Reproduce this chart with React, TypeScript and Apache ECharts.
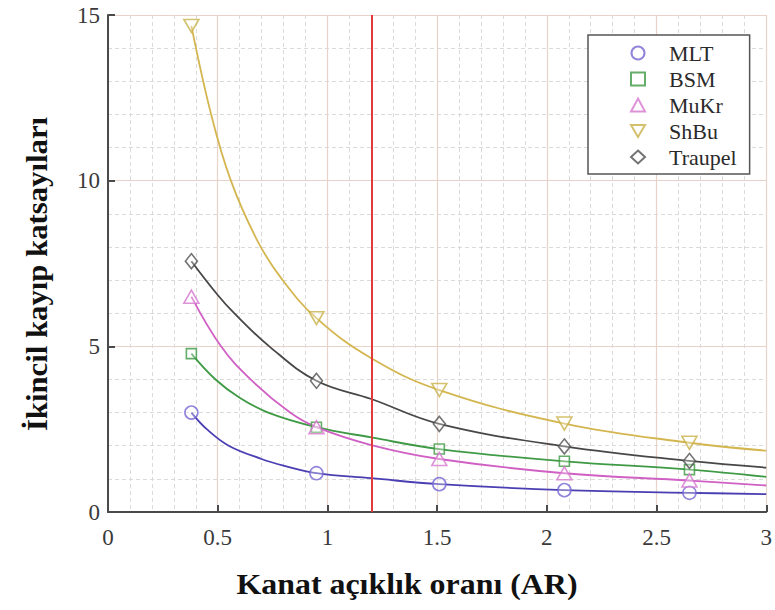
import React, { useEffect, useRef } from "react";
import * as echarts from "echarts";

// Marker positions (AR values) and marker values
const markerX = [0.38, 0.95, 1.51, 2.08, 2.65];
const mltMarkers = [3.0, 1.17, 0.84, 0.66, 0.58];
const bsmMarkers = [4.78, 2.56, 1.9, 1.53, 1.28];
const mukrMarkers = [6.5, 2.56, 1.6, 1.17, 0.95];
const shbuMarkers = [14.67, 5.85, 3.68, 2.67, 2.09];
const traupelMarkers = [7.57, 3.96, 2.66, 1.98, 1.54];

// Fitted curves as [AR, value]
const mltCurve = [[0.38, 3.0], [0.45, 2.5], [0.55, 2.0], [0.7, 1.6], [0.8, 1.4], [0.95, 1.17], [1.2, 1.02], [1.51, 0.84], [2.08, 0.66], [2.65, 0.58], [3.0, 0.54]];
const bsmCurve = [[0.38, 4.78], [0.49, 4.0], [0.6, 3.45], [0.73, 3.0], [0.95, 2.56], [1.2, 2.25], [1.51, 1.9], [2.08, 1.53], [2.65, 1.28], [3.0, 1.06]];
const mukrCurve = [[0.38, 6.5], [0.515, 5.0], [0.65, 4.0], [0.83, 3.0], [0.95, 2.56], [1.2, 2.02], [1.51, 1.6], [2.08, 1.17], [2.65, 0.95], [3.0, 0.8]];
const shbuCurve = [[0.38, 14.67], [0.47, 12.0], [0.56, 10.0], [0.68, 8.2], [0.79, 7.05], [0.95, 5.85], [1.2, 4.64], [1.51, 3.68], [2.08, 2.67], [2.65, 2.09], [3.0, 1.85]];
const traupelCurve = [[0.38, 7.57], [0.5, 6.55], [0.575, 6.0], [0.735, 5.0], [0.95, 3.96], [1.2, 3.41], [1.51, 2.66], [2.08, 1.98], [2.65, 1.54], [3.0, 1.34]];

const redLineX = 1.2;
const seriesNames = ["MLT", "BSM", "MuKr", "ShBu", "Traupel"];
const xAxisTitle = "Kanat açıklık oranı (AR)";
const yAxisTitle = "İkincil kayıp katsayıları";

const SERIF = "Liberation Serif";

export default function App() {
  const ref = useRef<HTMLDivElement>(null);
  useEffect(() => {
    if (!ref.current) return;
    const chart = echarts.init(ref.current, undefined, { renderer: "svg" });

    const defs = [
      { name: seriesNames[0], curve: mltCurve, marks: mltMarkers, line: "#4a3fb2", mark: "#7467d2", symbol: "circle", size: 13 },
      { name: seriesNames[1], curve: bsmCurve, marks: bsmMarkers, line: "#3f9a45", mark: "#3f9a45", symbol: "rect", size: 10 },
      { name: seriesNames[2], curve: mukrCurve, marks: mukrMarkers, line: "#d060c4", mark: "#d678cf", symbol: "triangle", size: [15, 13] },
      { name: seriesNames[3], curve: shbuCurve, marks: shbuMarkers, line: "#d4b650", mark: "#c9b24a", symbol: "path://M0,0L10,0L5,8.5Z", size: [15, 13] },
      { name: seriesNames[4], curve: traupelCurve, marks: traupelMarkers, line: "#474747", mark: "#505050", symbol: "diamond", size: [12, 15] },
    ];

    const series: any[] = [];
    defs.forEach((d, i) => {
      const s: any = {
        name: d.name + " curve",
        type: "line",
        data: d.curve,
        smooth: 0.4,
        showSymbol: false,
        symbol: "none",
        lineStyle: { color: d.line, width: 1.8 },
        z: 3,
      };
      if (i === 0) {
        s.markLine = {
          silent: true,
          symbol: ["none", "none"],
          label: { show: false },
          lineStyle: { color: "#e23a3a", width: 2, type: "solid" },
          data: [{ xAxis: redLineX }],
        };
      }
      series.push(s);
    });
    defs.forEach((d) => {
      series.push({
        name: d.name,
        type: "scatter",
        data: markerX.map((x, k) => [x, d.marks[k]]),
        symbol: d.symbol,
        symbolSize: d.size,
        itemStyle: { color: "rgba(255,255,255,0.4)", borderColor: d.mark, borderWidth: 1.6 },
        z: 5,
      });
    });

    const axisLine = { show: true, onZero: false, lineStyle: { color: "#4a4a4a", width: 2 } };
    const axisTick = { show: true, inside: true, length: 7, lineStyle: { color: "#4a4a4a", width: 2 } };
    const splitLine = { show: true, lineStyle: { color: "#e8d3ca", width: 1.2 } };
    const minorSplitLine = { show: true, lineStyle: { color: "#dadada", width: 1, type: [4, 3] } };

    chart.setOption({
      animation: false,
      backgroundColor: "#ffffff",
      textStyle: { fontFamily: SERIF },
      grid: { left: 108, right: 7, top: 15, bottom: 98, containLabel: false },
      xAxis: {
        type: "value",
        min: 0,
        max: 3,
        interval: 0.5,
        axisLine,
        axisTick,
        minorTick: { show: false, splitNumber: 5 },
        splitLine,
        minorSplitLine,
        axisLabel: { fontFamily: SERIF, fontSize: 23, color: "#3a3a3a", margin: 14 },
      },
      yAxis: {
        type: "value",
        min: 0,
        max: 15,
        interval: 5,
        axisLine,
        axisTick,
        minorTick: { show: false, splitNumber: 5 },
        splitLine,
        minorSplitLine,
        axisLabel: { fontFamily: SERIF, fontSize: 23, color: "#3a3a3a", margin: 8 },
      },
      legend: {
        data: seriesNames,
        orient: "vertical",
        left: 588,
        top: 35,
        backgroundColor: "#ffffff",
        borderColor: "#555555",
        borderWidth: 1.5,
        borderRadius: 0,
        padding: [7, 13, 6, 42],
        itemWidth: 14,
        itemHeight: 13,
        itemGap: 4,
        textStyle: { fontFamily: SERIF, fontSize: 22, color: "#2a2a2a", lineHeight: 21, padding: [0, 0, 0, 19] },
      },
      graphic: [
        {
          type: "text",
          x: 407,
          y: 584,
          scaleX: 1.1,
          style: {
            text: xAxisTitle,
            font: `bold 29px ${SERIF}`,
            fill: "#111111",
            align: "center",
            verticalAlign: "middle",
          },
        },
        {
          type: "text",
          x: 37,
          y: 274,
          rotation: Math.PI / 2,
          scaleX: 1.06,
          style: {
            text: yAxisTitle,
            font: `bold 29px ${SERIF}`,
            fill: "#111111",
            align: "center",
            verticalAlign: "middle",
          },
        },
      ],
      series,
    });

    return () => chart.dispose();
  }, []);

  return <div ref={ref} style={{ width: 775, height: 610, position: "absolute", left: 0, top: 0 }} />;
}
